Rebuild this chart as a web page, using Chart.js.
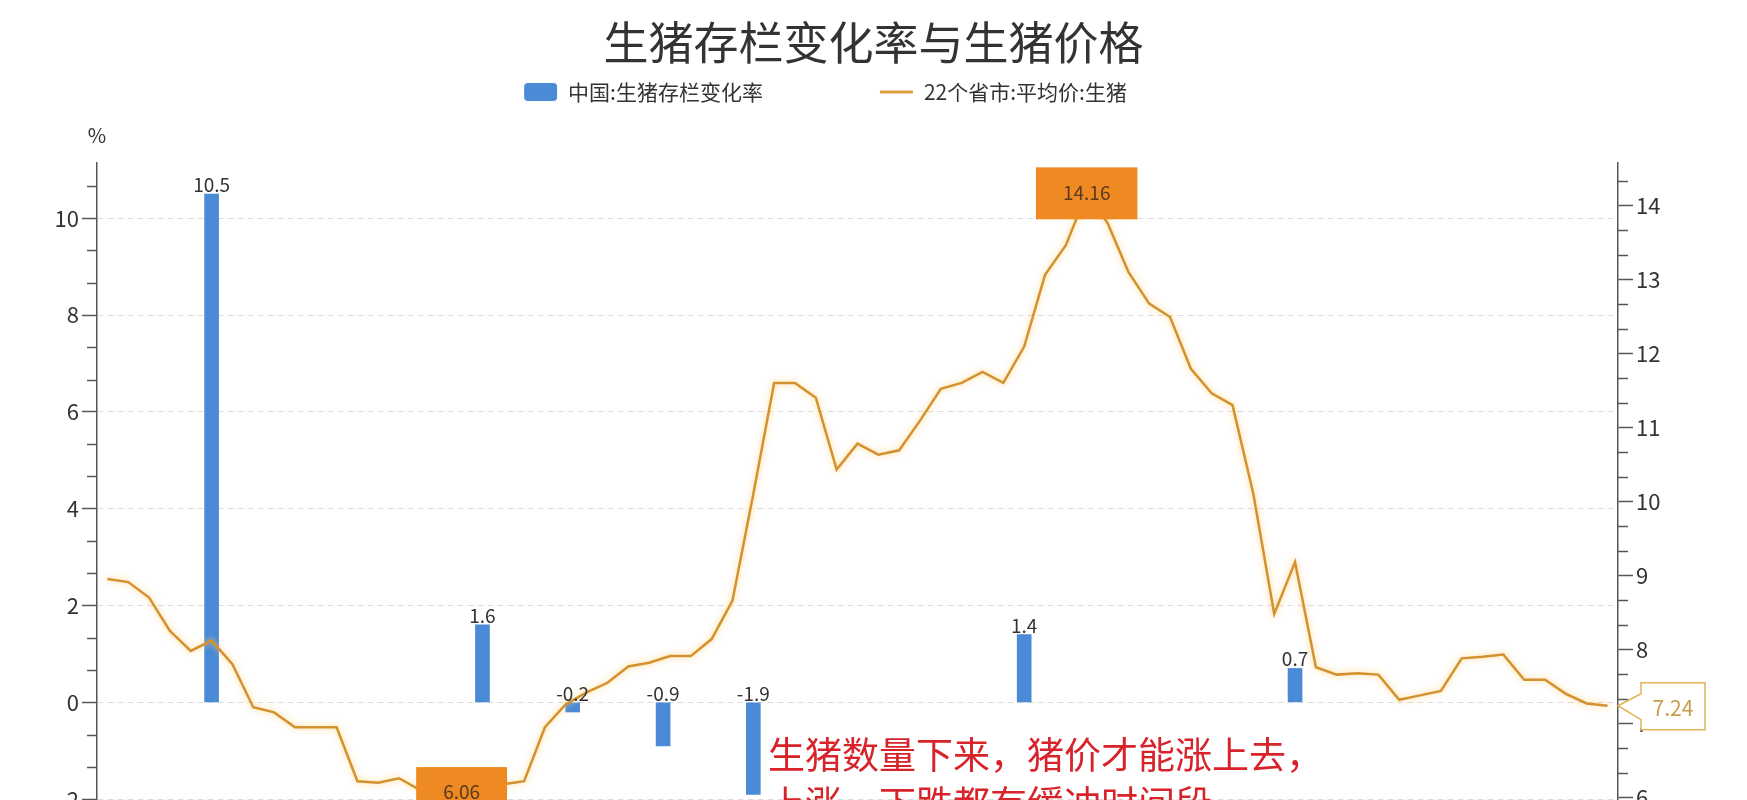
<!DOCTYPE html>
<html lang="zh-CN">
<head>
<meta charset="utf-8">
<title>生猪存栏变化率与生猪价格</title>
<script src="https://cdn.jsdelivr.net/npm/chart.js@4.4.1/dist/chart.umd.min.js"></script>
<style>
  html, body { margin: 0; padding: 0; background: #fff; overflow: hidden; }
  .chart-box { position: relative; width: 1747px; height: 926px; }
</style>
</head>
<body>
<div class="chart-box"><canvas id="pig-chart"></canvas></div>
<script>
// Pig herd change vs. hog price (chart is cropped at the bottom like the source image)

const chartTitle = '生猪存栏变化率与生猪价格';
const seriesNames = ['中国:生猪存栏变化率', '22个省市:平均价:生猪'];
const noteLines = ['生猪数量下来，猪价才能涨上去，', '上涨，下跌都有缓冲时间段'];

// 22 provinces average hog price, one value per period
const priceValues = [
  8.95, 8.91, 8.70, 8.25, 7.98, 8.12, 7.80, 7.22, 7.15, 6.95,
  6.95, 6.95, 6.22, 6.20, 6.26, 6.10, 6.08, 6.06, 6.12, 6.18,
  6.22, 6.95, 7.26, 7.42, 7.55, 7.77, 7.82, 7.91, 7.91, 8.14,
  8.66, 10.10, 11.60, 11.60, 11.40, 10.43, 10.78, 10.63, 10.69, 11.09,
  11.52, 11.60, 11.75, 11.60, 12.09, 13.06, 13.46, 14.16, 13.76, 13.10,
  12.67, 12.49, 11.79, 11.46, 11.30, 10.10, 8.48, 9.18, 7.76, 7.66,
  7.68, 7.66, 7.32, 7.38, 7.44, 7.88, 7.90, 7.93, 7.59, 7.59,
  7.40, 7.27, 7.24
];

// quarterly herd change (%), placed on the same period axis
const stockPeriods = [5, 18, 22.33, 26.67, 31, 44, 57];
const stockValues = [10.5, 1.6, -0.2, -0.9, -1.9, 1.4, 0.7];

// axis ranges and steps
const leftRange = [-4, 11.14];
const leftStep = 2;
const rightRange = [4.67, 14.57];
const rightStep = 1;

const barColor = '#4a8ad6';
const lineColor = '#d3922f';
const markColor = '#ef8a22';
const fontFamily = '"Noto Sans CJK SC", "Noto Sans", sans-serif';

Chart.defaults.font.family = fontFamily;
Chart.defaults.color = '#333';

// small tick marks between the labelled ones
const minorTicks = {
  id: 'minorTicks',
  beforeDatasetsDraw(chart) {
    const { ctx, chartArea, scales } = chart;
    drawMinor(ctx, scales.yL, leftStep / 3, chartArea.left, -10);
    drawMinor(ctx, scales.yR, rightStep / 3, chartArea.right, 10);
  }
};

function drawMinor(ctx, scale, step, x, len) {
  ctx.save();
  ctx.strokeStyle = '#555';
  ctx.lineWidth = 1.5;
  for (let k = Math.ceil(scale.min / step); k * step <= scale.max; k++) {
    if (((k % 3) + 3) % 3 === 0) continue;
    const y = Math.round(scale.getPixelForValue(k * step)) + 0.5;
    ctx.beginPath();
    ctx.moveTo(x, y);
    ctx.lineTo(x + len, y);
    ctx.stroke();
  }
  ctx.restore();
}

// soft halo under the price line
const lineGlow = {
  id: 'lineGlow',
  beforeDatasetDraw(chart, args) {
    if (args.index !== 1) return;
    chart.ctx.save();
    chart.ctx.shadowColor = 'rgba(255, 200, 100, 0.85)';
    chart.ctx.shadowBlur = 6;
  },
  afterDatasetDraw(chart, args) {
    if (args.index !== 1) return;
    chart.ctx.restore();
  }
};

// value labels, max/min boxes, last value tag, legend, % unit and note
const decorations = {
  id: 'decorations',
  afterDatasetsDraw(chart) {
    const { ctx, scales } = chart;
    ctx.save();

    // bar labels
    ctx.font = '19px ' + fontFamily;
    ctx.fillStyle = '#333';
    ctx.textAlign = 'center';
    ctx.textBaseline = 'alphabetic';
    chart.getDatasetMeta(0).data.forEach((bar, i) => {
      const top = Math.min(bar.y, bar.base);
      ctx.fillText(String(stockValues[i]), bar.x, top - 2);
    });

    // max / min mark boxes
    const maxIdx = priceValues.indexOf(Math.max(...priceValues));
    const minIdx = priceValues.indexOf(Math.min(...priceValues));
    [maxIdx, minIdx].forEach(idx => {
      const px = scales.x.getPixelForValue(idx);
      const py = scales.yR.getPixelForValue(priceValues[idx]);
      const txt = priceValues[idx].toFixed(2);
      const w = ctx.measureText(txt).width + 54;
      const h = 52;
      ctx.fillStyle = markColor;
      ctx.fillRect(px - w / 2, py - h / 2, w, h);
      ctx.fillStyle = '#5a3a1e';
      ctx.textBaseline = 'middle';
      ctx.fillText(txt, px, py - 1);
    });

    // note text
    ctx.font = '37px ' + fontFamily;
    ctx.fillStyle = '#d8232a';
    ctx.textAlign = 'left';
    ctx.textBaseline = 'middle';
    noteLines.forEach((line, i) => {
      ctx.fillText(line, 768, 755 + i * 49);
    });

    ctx.restore();
  },
  afterDraw(chart) {
    const { ctx, chartArea, scales } = chart;
    ctx.save();

    // last value tag on the right axis
    const last = priceValues[priceValues.length - 1];
    const x0 = chartArea.right;
    const y0 = scales.yR.getPixelForValue(last);
    ctx.beginPath();
    ctx.moveTo(x0, y0);
    ctx.lineTo(x0 + 23, y0 - 12);
    ctx.lineTo(x0 + 23, y0 - 23);
    ctx.lineTo(x0 + 87, y0 - 23);
    ctx.lineTo(x0 + 87, y0 + 24);
    ctx.lineTo(x0 + 23, y0 + 24);
    ctx.lineTo(x0 + 23, y0 + 14);
    ctx.closePath();
    ctx.fillStyle = '#fff';
    ctx.fill();
    ctx.strokeStyle = '#e3b356';
    ctx.lineWidth = 1.5;
    ctx.stroke();
    ctx.font = '21px ' + fontFamily;
    ctx.fillStyle = '#c99c4a';
    ctx.textAlign = 'center';
    ctx.textBaseline = 'middle';
    ctx.fillText(last.toFixed(2), x0 + 55, y0 + 2);

    // unit of the left axis
    ctx.font = '20px ' + fontFamily;
    ctx.fillStyle = '#333';
    ctx.fillText('%', chartArea.left, chartArea.top - 28);

    // legend
    ctx.font = '21px ' + fontFamily;
    ctx.textAlign = 'left';
    const ly = 92;
    let lx = chart.width * 0.3;
    ctx.fillStyle = barColor;
    ctx.beginPath();
    ctx.roundRect(lx, ly - 9, 33, 18, 4);
    ctx.fill();
    ctx.fillStyle = '#333';
    ctx.fillText(seriesNames[0], lx + 44, ly);
    lx += 44 + ctx.measureText(seriesNames[0]).width + 117;
    ctx.strokeStyle = '#e0a040';
    ctx.lineWidth = 3;
    ctx.beginPath();
    ctx.moveTo(lx, ly);
    ctx.lineTo(lx + 33, ly);
    ctx.stroke();
    ctx.fillText(seriesNames[1], lx + 44, ly);

    ctx.restore();
  }
};

const ctx = document.getElementById('pig-chart').getContext('2d');

new Chart(ctx, {
  type: 'bar',
  data: {
    datasets: [
      {
        type: 'bar',
        label: seriesNames[0],
        data: stockValues.map((v, i) => ({ x: stockPeriods[i], y: v })),
        backgroundColor: barColor,
        barThickness: 14,
        yAxisID: 'yL',
        order: 2
      },
      {
        type: 'line',
        label: seriesNames[1],
        data: priceValues.map((v, i) => ({ x: i, y: v })),
        borderColor: lineColor,
        borderWidth: 2.5,
        pointRadius: 0,
        tension: 0,
        fill: false,
        yAxisID: 'yR',
        order: 1
      }
    ]
  },
  options: {
    responsive: true,
    maintainAspectRatio: false,
    animation: false,
    layout: { padding: { left: 0, right: 0, top: 0, bottom: 30 } },
    scales: {
      x: {
        type: 'linear',
        display: false,
        offset: false,
        min: -0.5,
        max: priceValues.length - 0.5
      },
      yL: {
        position: 'left',
        min: leftRange[0],
        max: leftRange[1],
        afterFit: scale => { scale.width = 97; },
        ticks: { stepSize: leftStep, includeBounds: false, padding: 3, color: '#333', font: { size: 22 } },
        grid: { color: '#dcdcdc', lineWidth: 1, tickLength: 15, tickColor: '#555', tickWidth: 1.5, tickBorderDash: [] },
        border: { color: '#555', width: 1.5, dash: [6, 4] }
      },
      yR: {
        position: 'right',
        min: rightRange[0],
        max: rightRange[1],
        afterFit: scale => { scale.width = 129; },
        ticks: { stepSize: rightStep, includeBounds: false, padding: 3, color: '#333', font: { size: 22 } },
        grid: { drawOnChartArea: false, tickLength: 15, tickColor: '#555', tickWidth: 1.5 },
        border: { color: '#555', width: 1.5 }
      }
    },
    plugins: {
      legend: { display: false },
      tooltip: { enabled: false },
      title: {
        display: true,
        text: chartTitle,
        color: '#333',
        font: { size: 45, weight: 'normal' },
        padding: { top: 16, bottom: 93 }
      }
    }
  },
  plugins: [minorTicks, lineGlow, decorations]
});
</script>
</body>
</html>
